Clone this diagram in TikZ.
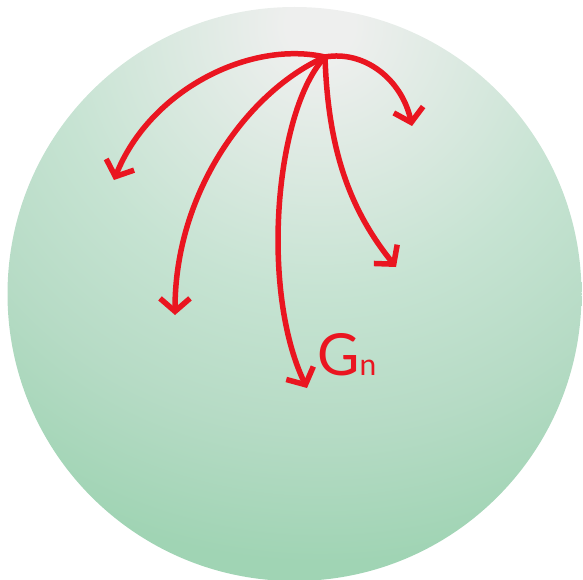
\documentclass[tikz,border=0pt]{standalone}
\usepackage{fontspec}
\setsansfont{Lato}
\usepackage{tikz}
\usetikzlibrary{arrows.meta,positioning}
\usepackage{xcolor}
\definecolor{pale}{HTML}{EEEFEE}
\definecolor{mintmid}{HTML}{C6E3D2}
\definecolor{mintside}{HTML}{B6DBC5}
\definecolor{mintlow}{HTML}{A0D4B4}
\definecolor{flow}{HTML}{EA1520}
\pgfdeclareradialshading{glow}{\pgfpointorigin}{color(0bp)=(pale);color(1.5bp)=(pale);color(12bp)=(mintmid);color(18bp)=(mintside);color(24bp)=(mintlow);color(50bp)=(mintlow)}
\tikzset{flowarrow/.style={draw=flow,line width=5.5pt,-{Straight Barb[length=13pt,width=30pt,line width=5.5pt]}},flowlabel/.style={text=flow,font=\sffamily,inner sep=0pt,anchor=base west}}

\begin{document}
\begin{tikzpicture}[x=1pt,y=-1pt]
\useasboundingbox (0,0) rectangle (583,580);
\begin{scope}
\clip (294.5,294) circle (287);
\shade[shading=glow] (320,25) circle (560);
\end{scope}
\coordinate (hub) at (325,57);
\coordinate (e1) at (114,180);\coordinate (e2) at (175,315);\coordinate (e3) at (307,388);
\coordinate (e4) at (396,267);\coordinate (e5) at (412,126);
\draw[flowarrow] (hub) .. controls (250,40) and (150,90) .. (e1);
\draw[flowarrow] (hub) .. controls (250,90) and (175,190) .. (e2);
\draw[flowarrow] (hub) .. controls (275,110) and (260,290) .. (e3);
\draw[flowarrow] (hub) .. controls (328,150) and (350,210) .. (e4);
\draw[flowarrow] (hub) .. controls (365,50) and (402,80) .. (e5);
\node[flowlabel] (gn) at (317,375) {\fontsize{58}{58}\selectfont G\fontsize{30}{30}\selectfont n};
\end{tikzpicture}
\end{document}
